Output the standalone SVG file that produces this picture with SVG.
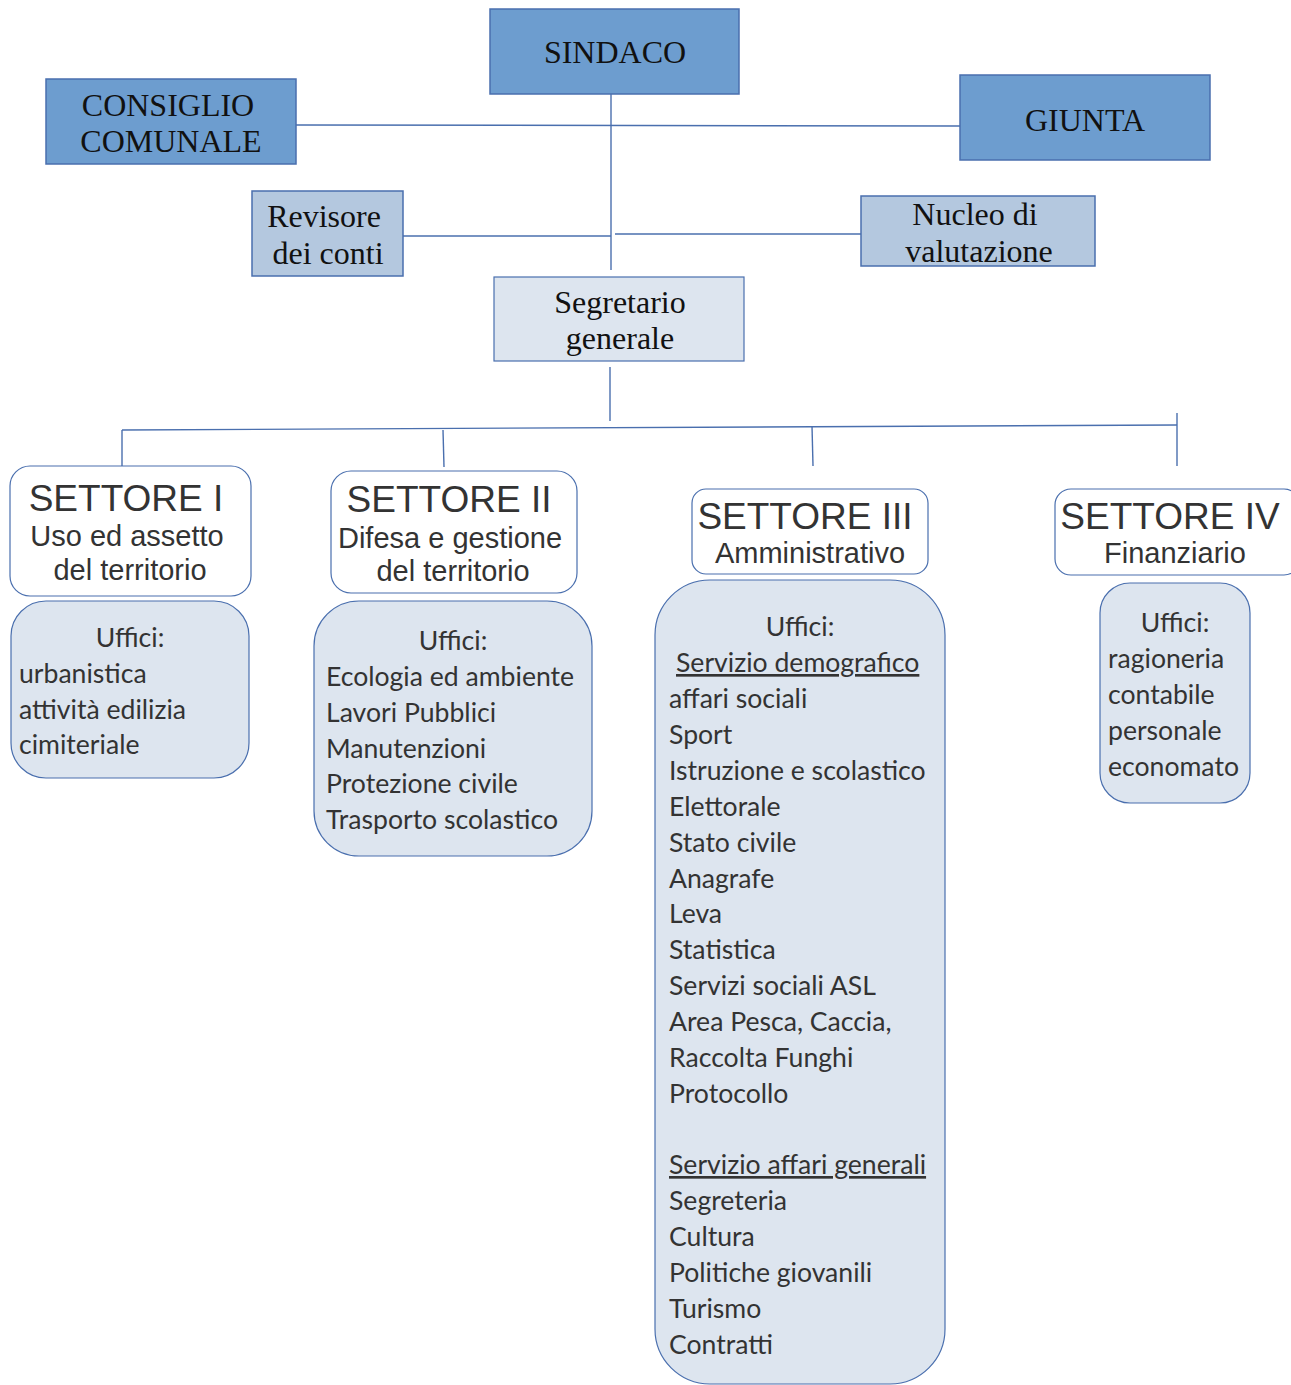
<svg xmlns="http://www.w3.org/2000/svg" width="1291" height="1385" viewBox="0 0 1291 1385">
<style>
.dark{fill:#6d9dcf;stroke:#4a6fae;stroke-width:1.5}
.mid{fill:#b4c8df;stroke:#4a6fae;stroke-width:1.5}
.light{fill:#dde5ef;stroke:#4a6fae;stroke-width:1.2}
.white{fill:#ffffff;stroke:#4a6fae;stroke-width:1.2}
.serif{font-family:"Liberation Serif","Times New Roman",serif;font-size:32px;fill:#111;text-anchor:middle}
.title{font-family:"Liberation Sans",Arial,sans-serif;font-size:37px;fill:#333;text-anchor:middle}
.sub{font-family:"Liberation Sans",Arial,sans-serif;font-size:29px;fill:#333;text-anchor:middle}
.list{font-family:Lato,"Noto Sans",sans-serif;font-size:26.6px;fill:#333}
.c{text-anchor:middle}
.u{text-decoration:underline}
.conn line{stroke:#4a6fae;stroke-width:1.4}
</style>
<g class="conn">
<line x1="296" y1="125" x2="960" y2="126"/>
<line x1="611" y1="94" x2="611" y2="270"/>
<line x1="403" y1="236" x2="611" y2="236"/>
<line x1="615" y1="234" x2="861" y2="234"/>
<line x1="610" y1="367" x2="610" y2="421"/>
<line x1="122" y1="430" x2="1177" y2="425"/>
<line x1="1177" y1="413" x2="1177" y2="466"/>
<line x1="122" y1="430" x2="122" y2="470"/>
<line x1="443" y1="430" x2="444" y2="467"/>
<line x1="812" y1="426" x2="813" y2="466"/>
</g>
<g id="sindaco"><rect class="dark" x="490" y="9" width="249" height="85"/><text class="serif" x="615" y="63">SINDACO</text></g>
<g id="consiglio"><rect class="dark" x="46" y="79" width="250" height="85"/><text class="serif" x="168" y="116">CONSIGLIO</text><text class="serif" x="171" y="152">COMUNALE</text></g>
<g id="giunta"><rect class="dark" x="960" y="75" width="250" height="85"/><text class="serif" x="1085" y="131">GIUNTA</text></g>
<g id="revisore"><rect class="mid" x="252" y="191" width="151" height="85"/><text class="serif" x="324" y="227">Revisore</text><text class="serif" x="328" y="264">dei conti</text></g>
<g id="nucleo"><rect class="mid" x="861" y="196" width="234" height="70"/><text class="serif" x="975" y="225">Nucleo di</text><text class="serif" x="979" y="262">valutazione</text></g>
<g id="segretario"><rect class="light" x="494" y="277" width="250" height="84"/><text class="serif" x="620" y="313">Segretario</text><text class="serif" x="620" y="349">generale</text></g>
<g id="settore1"><rect class="white" x="10" y="466" width="241" height="130" rx="20"/><text class="title" x="126" y="511">SETTORE I</text><text class="sub" x="127" y="546">Uso ed assetto</text><text class="sub" x="130" y="580">del territorio</text></g>
<g id="uffici1"><rect class="light" x="11" y="601" width="238" height="177" rx="35"/>
<text class="list c" x="130" y="647">Uffici:</text>
<text class="list" x="19" y="683">urbanistica</text>
<text class="list" x="19" y="719">attività edilizia</text>
<text class="list" x="19" y="754">cimiteriale</text></g>
<g id="settore2"><rect class="white" x="331" y="471" width="246" height="122" rx="20"/><text class="title" x="449" y="512">SETTORE II</text><text class="sub" x="450" y="548">Difesa e gestione</text><text class="sub" x="453" y="581">del territorio</text></g>
<g id="uffici2"><rect class="light" x="314" y="601" width="278" height="255" rx="45"/>
<text class="list c" x="453" y="650">Uffici:</text>
<text class="list" x="326" y="686">Ecologia ed ambiente</text>
<text class="list" x="326" y="722">Lavori Pubblici</text>
<text class="list" x="326" y="758">Manutenzioni</text>
<text class="list" x="326" y="793">Protezione civile</text>
<text class="list" x="326" y="829">Trasporto scolastico</text></g>
<g id="settore3"><rect class="white" x="692" y="489" width="236" height="85" rx="14"/><text class="title" x="805" y="529">SETTORE III</text><text class="sub" x="810" y="563">Amministrativo</text></g>
<g id="uffici3"><rect class="light" x="655" y="580" width="290" height="804" rx="55"/>
<text class="list c" x="800" y="636">Uffici:</text>
<text class="list u" x="676" y="672">Servizio demografico</text>
<text class="list" x="669" y="708">affari sociali</text>
<text class="list" x="669" y="744">Sport</text>
<text class="list" x="669" y="780">Istruzione e scolastico</text>
<text class="list" x="669" y="816">Elettorale</text>
<text class="list" x="669" y="852">Stato civile</text>
<text class="list" x="669" y="888">Anagrafe</text>
<text class="list" x="669" y="923">Leva</text>
<text class="list" x="669" y="959">Statistica</text>
<text class="list" x="669" y="995">Servizi sociali ASL</text>
<text class="list" x="669" y="1031">Area Pesca, Caccia,</text>
<text class="list" x="669" y="1067">Raccolta Funghi</text>
<text class="list" x="669" y="1103">Protocollo</text>
<text class="list u" x="669" y="1174">Servizio affari generali</text>
<text class="list" x="669" y="1210">Segreteria</text>
<text class="list" x="669" y="1246">Cultura</text>
<text class="list" x="669" y="1282">Politiche giovanili</text>
<text class="list" x="669" y="1318">Turismo</text>
<text class="list" x="669" y="1354">Contratti</text></g>
<g id="settore4"><rect class="white" x="1055" y="489" width="245" height="86" rx="16"/><text class="title" x="1170" y="529">SETTORE IV</text><text class="sub" x="1175" y="563">Finanziario</text></g>
<g id="uffici4"><rect class="light" x="1100" y="583" width="150" height="220" rx="30"/>
<text class="list c" x="1175" y="632">Uffici:</text>
<text class="list" x="1108" y="668">ragioneria</text>
<text class="list" x="1108" y="704">contabile</text>
<text class="list" x="1108" y="740">personale</text>
<text class="list" x="1108" y="776">economato</text></g>
</svg>
